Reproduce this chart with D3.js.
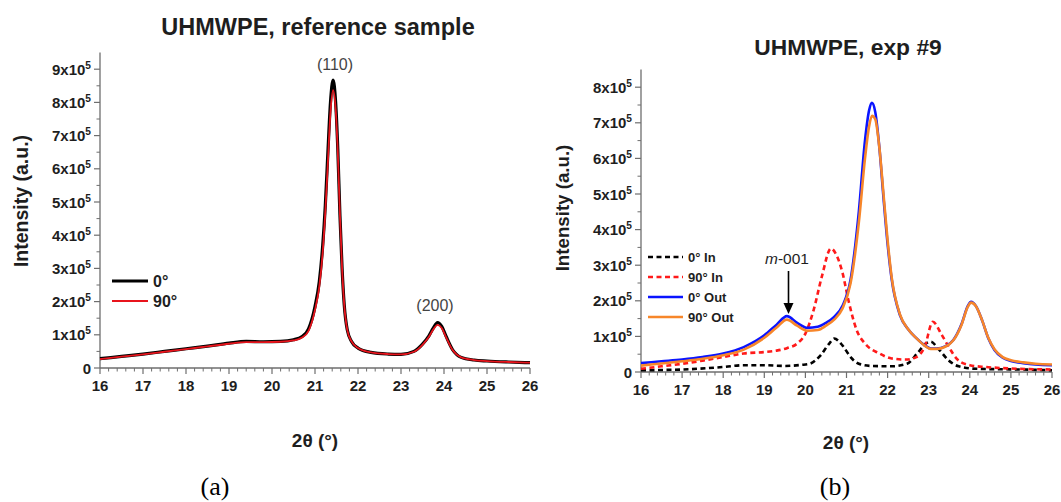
<!DOCTYPE html>
<html><head><meta charset="utf-8">
<script src="https://cdn.jsdelivr.net/npm/d3@7"></script>
<style>
html,body{margin:0;padding:0;background:#fff;}
svg{display:block;font-family:"Liberation Sans",Arial,sans-serif;}
</style></head>
<body>
<svg id="chart" width="1061" height="502"></svg>
<script>
// ---------------- DATA (intensity in units of 1e5) ----------------
const xTicks = [16,17,18,19,20,21,22,23,24,25,26];
const leftYTicks = [0,1,2,3,4,5,6,7,8,9];
const rightYTicks = [0,1,2,3,4,5,6,7,8];

// Panel (a): reference sample
const refX   = [16,16.5,17,17.5,18,18.5,19,19.4,19.8,20.2,20.5,20.7,20.85,21.0,21.1,21.18,21.24,21.3,21.36,21.42,21.48,21.53,21.58,21.63,21.68,21.75,21.85,22.0,22.3,22.7,23.0,23.3,23.5,23.65,23.75,23.85,23.95,24.05,24.2,24.4,24.7,25.0,25.5,26];
const ref0   = [0.28,0.35,0.42,0.50,0.58,0.66,0.75,0.80,0.79,0.80,0.85,0.95,1.18,1.85,2.6,3.7,4.9,6.5,8.0,8.67,8.0,6.6,4.6,3.0,1.9,1.15,0.80,0.60,0.47,0.42,0.41,0.50,0.72,0.97,1.20,1.37,1.25,0.95,0.55,0.32,0.24,0.21,0.18,0.16];
const ref90  = [0.27,0.34,0.41,0.49,0.57,0.65,0.73,0.78,0.78,0.79,0.83,0.92,1.12,1.75,2.45,3.5,4.7,6.2,7.7,8.37,7.8,6.5,4.6,3.0,1.9,1.15,0.80,0.60,0.47,0.42,0.41,0.49,0.70,0.94,1.16,1.30,1.20,0.92,0.54,0.32,0.24,0.21,0.18,0.16];
const refSeries = ["0°","90°"];

// Panel (b): exp #9
const in0X    = [16,17,18,18.5,19,19.5,19.9,20.1,20.37,20.58,20.7,20.9,21.1,21.3,21.6,22.1,22.47,22.72,22.93,23.05,23.23,23.48,23.73,24.16,25.24,26];
const in0Y    = [0.05,0.07,0.14,0.19,0.19,0.17,0.20,0.23,0.47,0.80,0.94,0.75,0.42,0.23,0.17,0.16,0.23,0.52,0.80,0.85,0.66,0.33,0.16,0.09,0.07,0.05];
const in90X   = [16,16.5,17,17.5,18,18.5,19,19.3,19.55,19.8,20.0,20.2,20.4,20.62,20.75,20.9,21.05,21.25,21.45,21.8,22.1,22.45,22.7,22.9,23.1,23.3,23.5,23.7,24.0,24.4,25.2,26];
const in90Y   = [0.09,0.16,0.23,0.32,0.42,0.52,0.56,0.60,0.67,0.80,1.08,1.74,2.68,3.47,3.30,2.80,2.00,1.17,0.80,0.52,0.38,0.35,0.42,0.70,1.41,1.08,0.68,0.35,0.19,0.14,0.09,0.07];
const outX    = [16,16.5,17,17.5,18,18.5,19,19.3,19.55,19.8,20.05,20.3,20.5,20.7,20.9,21.1,21.3,21.45,21.55,21.62,21.7,21.8,21.9,22.0,22.1,22.3,22.5,22.7,22.9,23.05,23.2,23.4,23.6,23.8,23.95,24.03,24.15,24.3,24.45,24.6,24.8,25.0,25.3,25.6,26];
const out0Y   = [0.25,0.30,0.35,0.42,0.52,0.70,1.03,1.33,1.57,1.38,1.24,1.27,1.38,1.55,1.85,2.6,4.5,6.5,7.35,7.56,7.3,6.3,4.9,3.6,2.6,1.6,1.2,0.95,0.75,0.66,0.66,0.72,0.90,1.35,1.85,1.97,1.85,1.45,0.95,0.62,0.40,0.31,0.25,0.21,0.19];
const out90Y  = [0.18,0.24,0.30,0.37,0.47,0.63,0.96,1.25,1.47,1.30,1.16,1.18,1.30,1.47,1.78,2.5,4.2,6.0,6.9,7.2,7.1,6.3,5.0,3.7,2.65,1.62,1.2,0.95,0.74,0.65,0.65,0.71,0.89,1.33,1.83,1.95,1.85,1.45,0.96,0.64,0.42,0.33,0.27,0.23,0.21];
const expSeries = ["0° In","90° In","0° Out","90° Out"];

// ---------------- DRAWING ----------------
const svg = d3.select("#chart");
const AX = "#6e6e6e", TXT = "#1e1e1e";

function zip(xs, ys){ return xs.map((x,i)=>({x:x, y:ys[i]})); }

function drawAxes(x, y, yTicks, fsTick){
  const x0 = x.range()[0], x1 = x.range()[1];
  const y0 = y(0), yTop = y.range()[1];
  const g = svg.append("g");
  // x axis
  g.append("line").attr("x1",x0).attr("x2",x1).attr("y1",y0).attr("y2",y0).attr("stroke",AX).attr("stroke-width",1.3);
  const minorX = d3.range(16,26.001,0.2).filter(v=>Math.abs(v-Math.round(v))>1e-6);
  g.selectAll(null).data(minorX).enter().append("line")
    .attr("x1",d=>x(d)).attr("x2",d=>x(d)).attr("y1",y0).attr("y2",y0+3.5).attr("stroke",AX).attr("stroke-width",1);
  g.selectAll(null).data(xTicks).enter().append("line")
    .attr("x1",d=>x(d)).attr("x2",d=>x(d)).attr("y1",y0).attr("y2",y0+6).attr("stroke",AX).attr("stroke-width",1.2);
  g.selectAll(null).data(xTicks).enter().append("text")
    .attr("x",d=>x(d)).attr("y",y0+23).attr("text-anchor","middle")
    .attr("font-size",fsTick).attr("font-weight","bold").attr("fill",TXT).text(d=>d);
  // y axis
  g.append("line").attr("x1",x0).attr("x2",x0).attr("y1",y0).attr("y2",yTop).attr("stroke",AX).attr("stroke-width",1.3);
  const minorY = yTicks.map(v=>v+0.5).filter(v=>y(v)>yTop);
  g.selectAll(null).data(minorY).enter().append("line")
    .attr("x1",x0-3.5).attr("x2",x0).attr("y1",d=>y(d)).attr("y2",d=>y(d)).attr("stroke",AX).attr("stroke-width",1);
  g.selectAll(null).data(yTicks).enter().append("line")
    .attr("x1",x0-6).attr("x2",x0).attr("y1",d=>y(d)).attr("y2",d=>y(d)).attr("stroke",AX).attr("stroke-width",1.2);
  const lab = g.selectAll(null).data(yTicks).enter().append("text")
    .attr("x",x0-9).attr("y",d=>y(d)+5.5).attr("text-anchor","end")
    .attr("font-size",fsTick).attr("font-weight","bold").attr("fill",TXT);
  lab.each(function(d){
    const t = d3.select(this);
    if(d===0){ t.text("0"); return; }
    t.append("tspan").text(d+"x10");
    t.append("tspan").attr("font-size",fsTick*0.68).attr("dy",-6).text("5");
  });
}

function drawLine(x, y, data, color, width, dash){
  const line = d3.line().x(d=>x(d.x)).y(d=>y(d.y)).curve(d3.curveMonotoneX);
  const p = svg.append("path").datum(data).attr("d",line)
    .attr("fill","none").attr("stroke",color).attr("stroke-width",width)
    .attr("stroke-linejoin","round");
  if(dash) p.attr("stroke-dasharray",dash);
}

// ----- Panel (a)
(function(){
  const x = d3.scaleLinear().domain([16,26]).range([100,530]);
  const y = d3.scaleLinear().domain([0,9.5]).range([368,52.6]);
  drawAxes(x, y, leftYTicks, 15);
  drawLine(x, y, zip(refX, ref0), "#000000", 3.2);
  drawLine(x, y, zip(refX, ref90), "#e8141c", 1.8);
  svg.append("text").attr("x",318).attr("y",35).attr("text-anchor","middle")
    .attr("font-size",23.5).attr("font-weight","bold").attr("fill",TXT).text("UHMWPE, reference sample");
  svg.append("text").attr("transform","translate(28,201) rotate(-90)").attr("text-anchor","middle")
    .attr("font-size",19.5).attr("font-weight","bold").attr("fill",TXT).text("Intensity (a.u.)");
  svg.append("text").attr("x",315).attr("y",447).attr("text-anchor","middle")
    .attr("font-size",19).attr("font-weight","bold").attr("fill",TXT).text("2θ (°)");
  svg.append("text").attr("x",335).attr("y",70).attr("text-anchor","middle")
    .attr("font-size",16).attr("fill","#444").text("(110)");
  svg.append("text").attr("x",435).attr("y",311).attr("text-anchor","middle")
    .attr("font-size",16).attr("fill","#444").text("(200)");
  // legend
  const leg = [{c:"#000000",w:3.2},{c:"#e8141c",w:1.8}];
  refSeries.forEach((s,i)=>{
    const yy = 281 + i*20;
    svg.append("line").attr("x1",112).attr("x2",148).attr("y1",yy).attr("y2",yy)
      .attr("stroke",leg[i].c).attr("stroke-width",leg[i].w);
    svg.append("text").attr("x",153).attr("y",yy+6).attr("font-size",16).attr("font-weight","bold")
      .attr("fill",TXT).text(s);
  });
  svg.append("text").attr("x",215).attr("y",495).attr("text-anchor","middle")
    .attr("font-family","'Liberation Serif','Times New Roman',serif").attr("font-size",26).attr("fill","#000").text("(a)");
})();

// ----- Panel (b)
(function(){
  const x = d3.scaleLinear().domain([16,26]).range([641,1052]);
  const y = d3.scaleLinear().domain([0,8.5]).range([372,69.4]);
  drawAxes(x, y, rightYTicks, 15);
  const styles = [
    {c:"#000000", w:2.6, dash:"5,3.5", data:zip(in0X,in0Y)},
    {c:"#ff1a1a", w:2.6, dash:"5,3.5", data:zip(in90X,in90Y)},
    {c:"#0a14ff", w:2.6, dash:null,   data:zip(outX,out0Y)},
    {c:"#f7862a", w:2.6, dash:null,   data:zip(outX,out90Y)}
  ];
  styles.forEach(s=>drawLine(x, y, s.data, s.c, s.w, s.dash));
  svg.append("text").attr("x",848).attr("y",55).attr("text-anchor","middle")
    .attr("font-size",22.8).attr("font-weight","bold").attr("fill",TXT).text("UHMWPE, exp #9");
  svg.append("text").attr("transform","translate(569,208) rotate(-90)").attr("text-anchor","middle")
    .attr("font-size",18.7).attr("font-weight","bold").attr("fill",TXT).text("Intensity (a.u.)");
  svg.append("text").attr("x",846).attr("y",449).attr("text-anchor","middle")
    .attr("font-size",19).attr("font-weight","bold").attr("fill",TXT).text("2θ (°)");
  // legend
  expSeries.forEach((s,i)=>{
    const yy = 257 + i*20;
    const l = svg.append("line").attr("x1",648).attr("x2",683).attr("y1",yy).attr("y2",yy)
      .attr("stroke",styles[i].c).attr("stroke-width",styles[i].w);
    if(styles[i].dash) l.attr("stroke-dasharray",styles[i].dash);
    svg.append("text").attr("x",688).attr("y",yy+5).attr("font-size",13).attr("font-weight","bold")
      .attr("fill",TXT).text(s);
  });
  // m-001 annotation
  const t = svg.append("text").attr("x",787).attr("y",264).attr("text-anchor","middle")
    .attr("font-size",15.5).attr("fill",TXT);
  t.append("tspan").attr("font-style","italic").text("m");
  t.append("tspan").text("-001");
  svg.append("line").attr("x1",788.5).attr("x2",788.5).attr("y1",271).attr("y2",305)
    .attr("stroke","#000").attr("stroke-width",1.6);
  svg.append("path").attr("d","M783.5,303 L793.5,303 L788.5,314 Z").attr("fill","#000");
  svg.append("text").attr("x",835).attr("y",495).attr("text-anchor","middle")
    .attr("font-family","'Liberation Serif','Times New Roman',serif").attr("font-size",26).attr("fill","#000").text("(b)");
})();
</script>
</body></html>
